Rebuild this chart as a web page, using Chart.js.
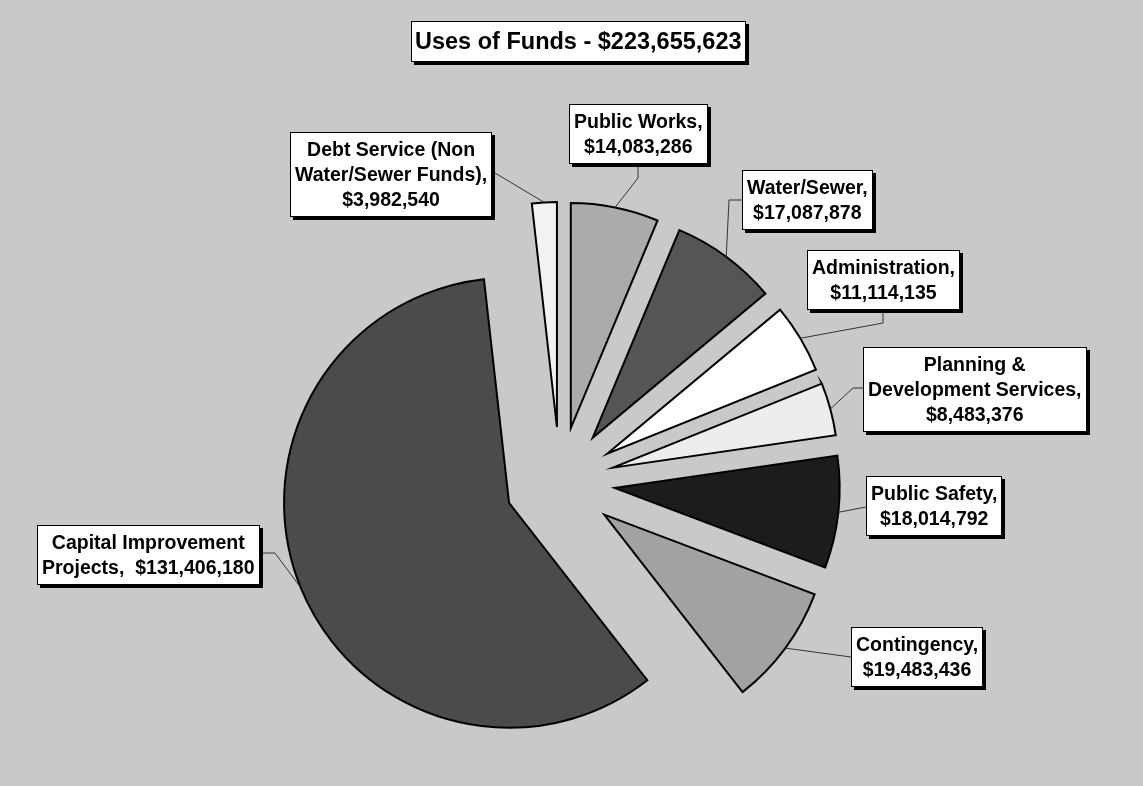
<!DOCTYPE html>
<html lang="en">
<head>
<meta charset="UTF-8">
<title>Uses of Funds</title>
<script src="https://cdn.jsdelivr.net/npm/chart.js"></script>
<style>
    body {
        margin: 0;
        background: #c9c9c9;
        font-family: 'Liberation Sans', Arial, sans-serif;
    }
    #wrap {
        position: relative;
        width: 1143px;
        height: 786px;
        overflow: hidden;
    }
    #pie {
        position: absolute;
        left: 0;
        top: 0;
    }
    .box {
        position: absolute;
        background: #fff;
        border: 1.5px solid #000;
        box-shadow: 3px 3px 0 #000;
        font-weight: bold;
        color: #000;
        text-align: center;
        white-space: pre;
    }
    .title {
        font-size: 23.5px;
        line-height: 35px;
        padding: 2px 3px;
    }
    .label {
        font-size: 19.5px;
        line-height: 25px;
        padding: 4px 4px;
    }
</style>
</head>
<body>
<div id="wrap">
    <canvas id="pie" width="1143" height="786"></canvas>
    <div class="box title" id="title" style="left:411px;top:21px"></div>
</div>

<script>
    // Budget categories, clockwise from just left of 12 o'clock
    const categories = [
        'Debt Service (Non\nWater/Sewer Funds)',
        'Public Works',
        'Water/Sewer',
        'Administration',
        'Planning &\nDevelopment Services',
        'Public Safety',
        'Contingency',
        'Capital Improvement\nProjects'
    ];
    const amounts = [3982540, 14083286, 17087878, 11114135, 8483376, 18014792, 19483436, 131406180];
    const sliceColors = ['#f2f2f2', '#ababab', '#555555', '#ffffff', '#ededed', '#1c1c1c', '#a2a2a2', '#4b4b4b'];

    // where each callout box sits, and where its leader line meets the box
    const labelBoxes = [
        { left: 290, top: 132, join: '\n', anchor: [495, 173] },
        { left: 569, top: 104, join: '\n', anchor: [638, 165], elbow: [638, 178] },
        { left: 742, top: 170, join: '\n', anchor: [742, 200], elbow: [729, 200] },
        { left: 807, top: 250, join: '\n', anchor: [883, 312], elbow: [883, 323] },
        { left: 863, top: 347, join: '\n', anchor: [863, 388], elbow: [853, 388] },
        { left: 866, top: 476, join: '\n', anchor: [866, 507] },
        { left: 851, top: 627, join: '\n', anchor: [851, 657] },
        { left: 37, top: 525, join: '  ', anchor: [263, 553], elbow: [275, 553] }
    ];

    const explode = 55;
    const money = v => '$' + v.toLocaleString('en-US');
    const total = amounts.reduce((a, b) => a + b, 0);

    document.getElementById('title').textContent = 'Uses of Funds - ' + money(total);

    // pull every slice out from the centre by the same distance
    const explodePlugin = {
        id: 'explode',
        afterDatasetsUpdate(chart) {
            chart.getDatasetMeta(0).data.forEach(arc => {
                const mid = (arc.startAngle + arc.endAngle) / 2;
                arc.x += Math.cos(mid) * explode;
                arc.y += Math.sin(mid) * explode;
            });
        }
    };

    // leader lines from each slice's outer edge to its callout
    const leaderPlugin = {
        id: 'leaders',
        afterDatasetsDraw(chart) {
            const ctx = chart.ctx;
            ctx.save();
            ctx.strokeStyle = '#333';
            ctx.lineWidth = 1;
            chart.getDatasetMeta(0).data.forEach((arc, i) => {
                const box = labelBoxes[i];
                const mid = (arc.startAngle + arc.endAngle) / 2;
                ctx.beginPath();
                ctx.moveTo(arc.x + Math.cos(mid) * arc.outerRadius, arc.y + Math.sin(mid) * arc.outerRadius);
                if (box.elbow) ctx.lineTo(box.elbow[0], box.elbow[1]);
                ctx.lineTo(box.anchor[0], box.anchor[1]);
                ctx.stroke();
            });
            ctx.restore();
        }
    };

    new Chart(document.getElementById('pie'), {
        type: 'pie',
        data: {
            labels: categories,
            datasets: [{
                data: amounts,
                backgroundColor: sliceColors,
                borderColor: '#000',
                borderWidth: 2,
                borderJoinStyle: 'miter',
                radius: 225
            }]
        },
        options: {
            responsive: false,
            animation: false,
            events: [],
            rotation: -amounts[0] / total * 360,
            layout: { padding: { left: 0, right: 23, top: 178, bottom: 0 } },
            plugins: {
                legend: { display: false },
                tooltip: { enabled: false }
            }
        },
        plugins: [explodePlugin, leaderPlugin]
    });

    // callout boxes
    const wrap = document.getElementById('wrap');
    labelBoxes.forEach((b, i) => {
        const div = document.createElement('div');
        div.className = 'box label';
        div.style.left = b.left + 'px';
        div.style.top = b.top + 'px';
        div.textContent = categories[i] + ',' + b.join + money(amounts[i]);
        wrap.appendChild(div);
    });
</script>
</body>
</html>
